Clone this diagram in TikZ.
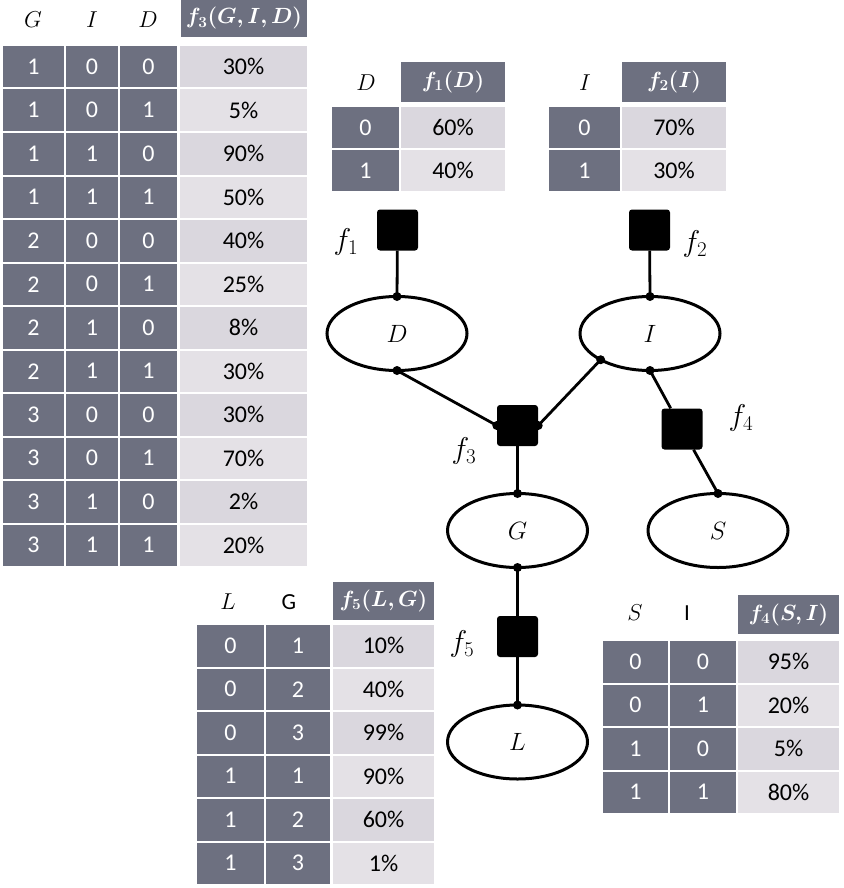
\RequirePackage{fix-cm}
\documentclass[tikz,border=0pt]{standalone}
\usepackage{fontspec}
\setmainfont{Carlito}
\usepackage{bm}
\usetikzlibrary{shapes.geometric}
\definecolor{cdark}{HTML}{6D7080}
\definecolor{clight1}{HTML}{DAD7DE}
\definecolor{clight0}{HTML}{E4E1E6}
\tikzset{
 cellbase/.style={anchor=north west, inner sep=0pt, outer sep=0pt, font=\fontsize{24}{27}\selectfont},
 dcell/.style={cellbase, fill=cdark, text=white},
 lcell/.style={cellbase, fill=clight#1, text=black},
 hdr/.style={font=\fontsize{23}{26}\selectfont},
 hdrbox/.style={cellbase, fill=cdark, text=white, font=\fontsize{22}{26}\selectfont},
 var/.style={ellipse, draw, line width=3pt, minimum width=140pt, minimum height=74pt, inner sep=0pt, outer sep=0pt, font=\fontsize{25}{28}\selectfont},
 fac/.style={rectangle, fill=black, rounded corners=3pt, minimum size=41pt, inner sep=0pt},
 flab/.style={font=\fontsize{30}{34}\selectfont},
 edge/.style={line width=2.8pt},
}
\begin{document}
\begin{tikzpicture}[x=1pt,y=-1pt]
\useasboundingbox (0,0) rectangle (843,888);
% ---------- f3 table ----------
\node[hdr] (hG) at (33,20) {$G$};
\node[hdr] (hI) at (92,20) {$I$};
\node[hdr] (hD) at (148,20) {$D$};
\node[hdrbox, minimum width=126pt, minimum height=37pt] (hf3) at (181,0) {$\bm{f_3(G,I,D)}$};
\foreach \g/\i/\d/\p [count=\r] in {1/0/0/30,1/0/1/5,1/1/0/90,1/1/1/50,2/0/0/40,2/0/1/25,2/1/0/8,2/1/1/30,3/0/0/30,3/0/1/70,3/1/0/2,3/1/1/20}{
  \pgfmathsetmacro\yt{46+43.5*(\r-1)}
  \pgfmathtruncatemacro\bnd{mod(\r,2)}
  \node[dcell, minimum width=61pt, minimum height=41.5pt] (tg-\r) at (3,\yt) {\g};
  \node[dcell, minimum width=52pt, minimum height=41.5pt] (ti-\r) at (66,\yt) {\i};
  \node[dcell, minimum width=57pt, minimum height=41.5pt] (td-\r) at (120,\yt) {\d};
  \node[lcell=\bnd, minimum width=127pt, minimum height=41.5pt] (tp-\r) at (180,\yt) {\p\%};
}
% ---------- f1 table ----------
\node[hdr] (hD1) at (366,83) {$D$};
\node[hdrbox, minimum width=104pt, minimum height=40pt] (hf1) at (401,62) {$\bm{f_1(D)}$};
\node[dcell, minimum width=67pt, minimum height=41pt] (f1a0) at (332,107) {0};
\node[lcell=1, minimum width=104pt, minimum height=41pt] (f1b0) at (401,107) {60\%};
\node[dcell, minimum width=67pt, minimum height=41pt] (f1a1) at (332,150) {1};
\node[lcell=0, minimum width=104pt, minimum height=41pt] (f1b1) at (401,150) {40\%};
% ---------- f2 table ----------
\node[hdr] (hI2) at (585,83) {$I$};
\node[hdrbox, minimum width=104pt, minimum height=40pt] (hf2) at (622,62) {$\bm{f_2(I)}$};
\node[dcell, minimum width=71pt, minimum height=41pt] (f2a0) at (549,107) {0};
\node[lcell=1, minimum width=104pt, minimum height=41pt] (f2b0) at (622,107) {70\%};
\node[dcell, minimum width=71pt, minimum height=41pt] (f2a1) at (549,150) {1};
\node[lcell=0, minimum width=104pt, minimum height=41pt] (f2b1) at (622,150) {30\%};
% ---------- f5 table ----------
\node[hdr] (hL5) at (228,602) {$L$};
\node[hdr] (hG5) at (289,602) {G};
\node[hdrbox, minimum width=101pt, minimum height=38pt] (hf5) at (333,582) {$\bm{f_5(L,G)}$};
\foreach \l/\g/\p [count=\r] in {0/1/10,0/2/40,0/3/99,1/1/90,1/2/60,1/3/1}{
  \pgfmathsetmacro\yt{625+43.5*(\r-1)}
  \pgfmathtruncatemacro\bnd{mod(\r,2)}
  \node[dcell, minimum width=67pt, minimum height=41.5pt] (ul-\r) at (197,\yt) {\l};
  \node[dcell, minimum width=64pt, minimum height=41.5pt] (ug-\r) at (266,\yt) {\g};
  \node[lcell=\bnd, minimum width=101pt, minimum height=41.5pt] (up-\r) at (333,\yt) {\p\%};
}
% ---------- f4 table ----------
\node[hdr] (hS4) at (635,613) {$S$};
\node[hdr] (hI4) at (687,613) {I};
\node[hdrbox, minimum width=101pt, minimum height=39pt] (hf4) at (738,595) {$\bm{f_4(S,I)}$};
\foreach \s/\i/\p [count=\r] in {0/0/95,0/1/20,1/0/5,1/1/80}{
  \pgfmathsetmacro\yt{641+43.5*(\r-1)}
  \pgfmathtruncatemacro\bnd{mod(\r,2)}
  \node[dcell, minimum width=65pt, minimum height=41.5pt] (vs-\r) at (603,\yt) {\s};
  \node[dcell, minimum width=66pt, minimum height=41.5pt] (vi-\r) at (670,\yt) {\i};
  \node[lcell=\bnd, minimum width=101pt, minimum height=41.5pt] (vp-\r) at (738,\yt) {\p\%};
}
% ---------- factor graph ----------
\node[fac] (f1) at (397.5,230) {};
\node[fac] (f2) at (649.5,230) {};
\node[var] (D) at (397,333.5) {$D$};
\node[var] (I) at (650,333.5) {$I$};
\node[fac] (f3) at (517.5,425.5) {};
\node[fac] (f4) at (682,429) {};
\node[var] (G) at (517.5,530.5) {$G$};
\node[var] (S) at (718,530.5) {$S$};
\node[fac] (f5) at (517.5,636.5) {};
\node[var] (L) at (517.5,742) {$L$};
\node[flab] (lf1) at (346,242) {$f_1$};
\node[flab] (lf2) at (695,244) {$f_2$};
\node[flab] (lf3) at (464,451) {$f_3$};
\node[flab] (lf4) at (741,418) {$f_4$};
\node[flab] (lf5) at (462,644) {$f_5$};
\draw[edge] (f1) -- (D.north);
\draw[edge] (f2) -- (I.north);
\draw[edge] (D.south) -- (f3.west);
\draw[edge] (I.208) -- (f3.east);
\draw[edge] (I.south) -- (f4) -- (S.north);
\draw[edge] (f3) -- (G.north);
\draw[edge] (G.south) -- (f5) -- (L.north);
\foreach \p in {D.north,D.south,I.north,I.208,I.south,f3.west,f3.east,G.north,G.south,S.north,L.north}
  \fill (\p) circle (4.5pt);
\end{tikzpicture}
\end{document}
